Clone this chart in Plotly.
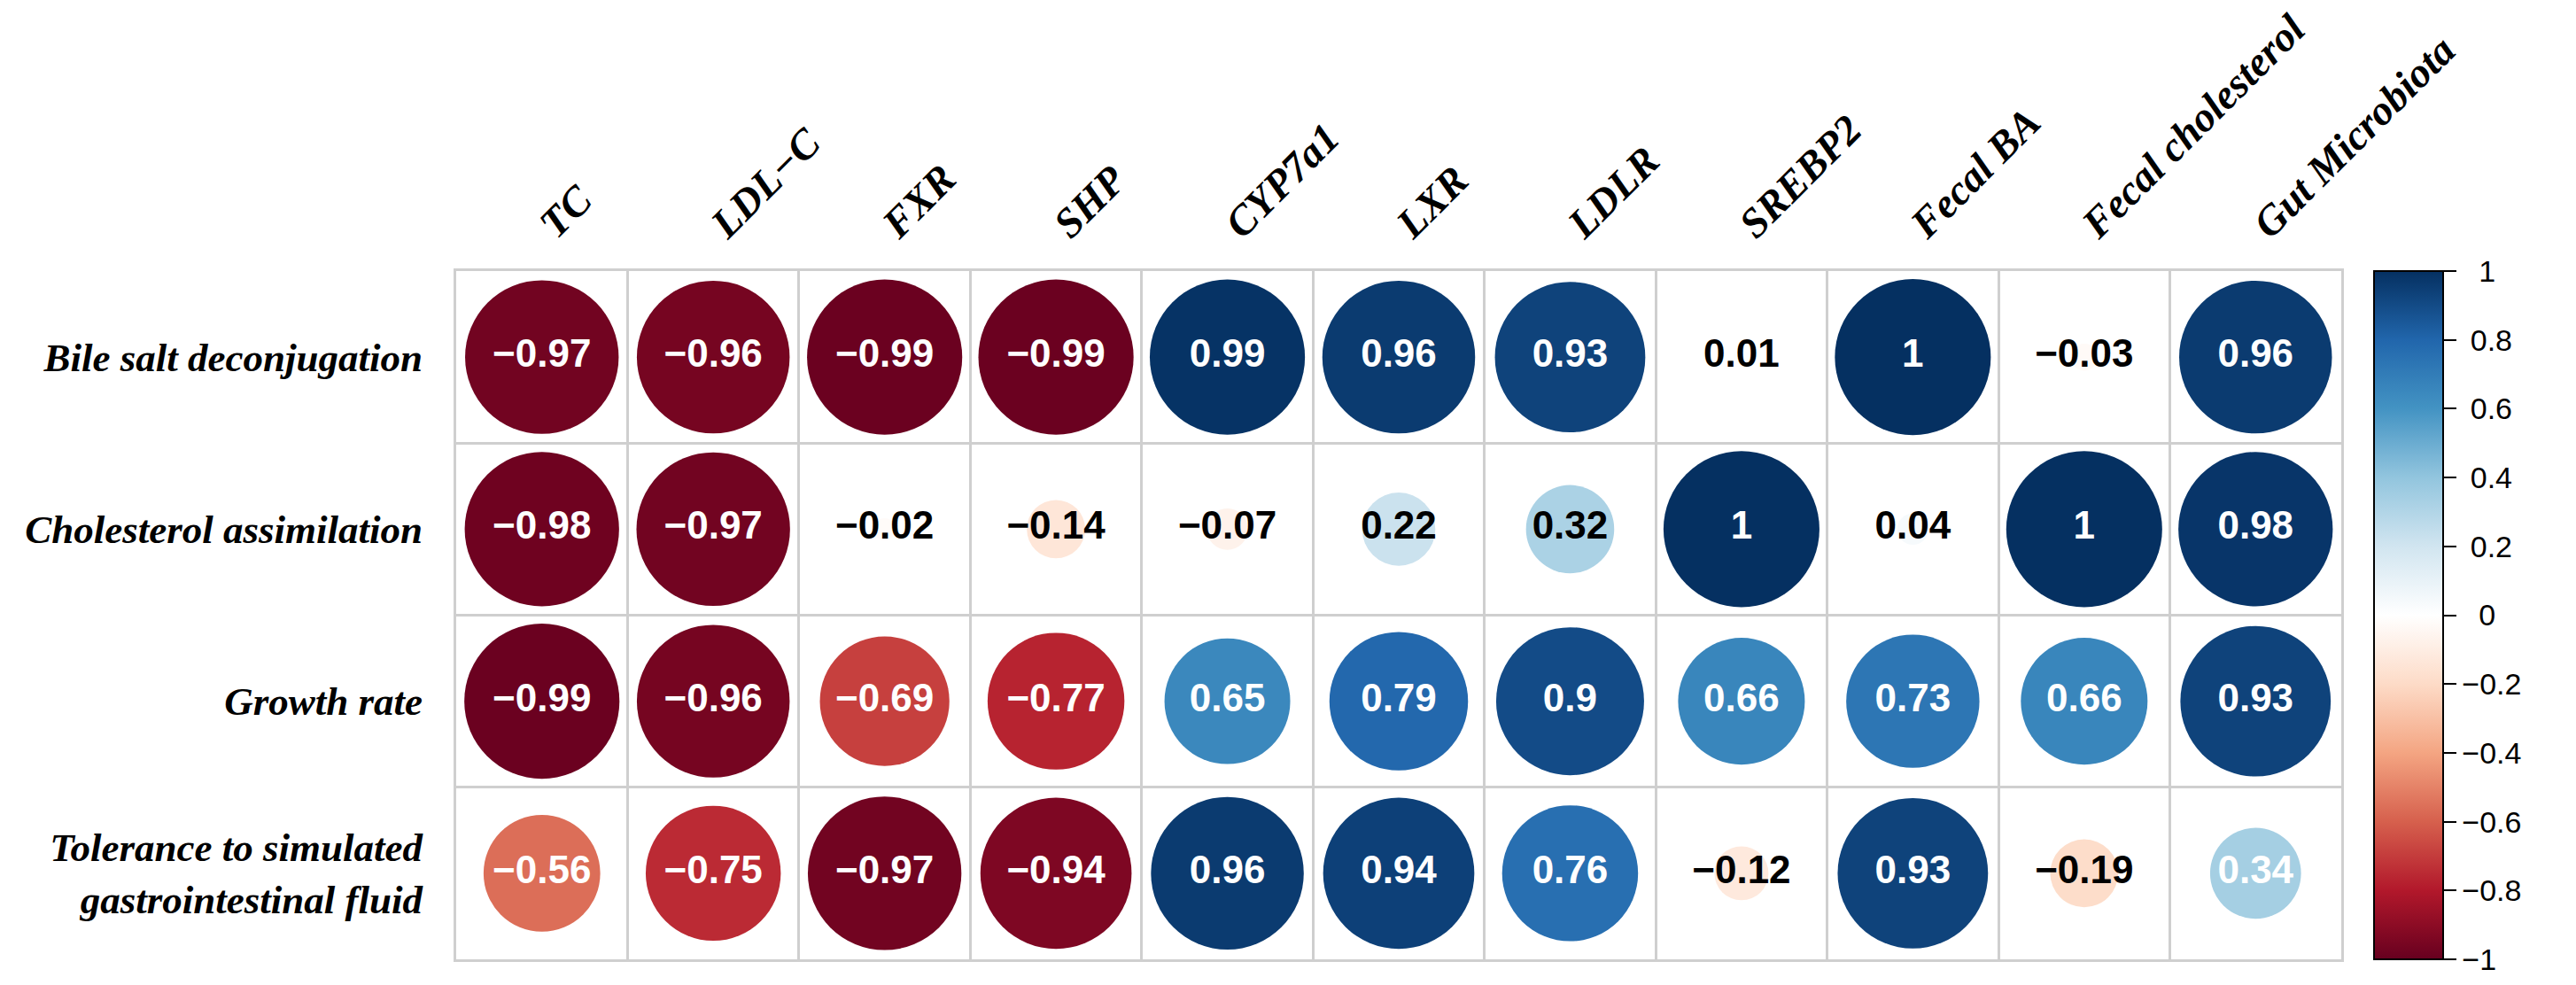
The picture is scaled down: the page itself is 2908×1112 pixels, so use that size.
import plotly.graph_objects as go
import numpy as np

columns = ["TC", "LDL\u2212C", "FXR", "SHP", "CYP7a1", "LXR", "LDLR", "SREBP2",
           "Fecal BA", "Fecal cholesterol", "Gut Microbiota"]
rows = ["Bile salt deconjugation", "Cholesterol assimilation", "Growth rate",
        "Tolerance to simulated<br>gastrointestinal fluid"]

bile_salt = [-0.97, -0.96, -0.99, -0.99, 0.99, 0.96, 0.93, 0.01, 1, -0.03, 0.96]
cholesterol_assim = [-0.98, -0.97, -0.02, -0.14, -0.07, 0.22, 0.32, 1, 0.04, 1, 0.98]
growth_rate = [-0.99, -0.96, -0.69, -0.77, 0.65, 0.79, 0.9, 0.66, 0.73, 0.66, 0.93]
tolerance = [-0.56, -0.75, -0.97, -0.94, 0.96, 0.94, 0.76, -0.12, 0.93, -0.19, 0.34]

cbar_ticks = [-1, -0.8, -0.6, -0.4, -0.2, 0, 0.2, 0.4, 0.6, 0.8, 1]

series = [bile_salt, cholesterol_assim, growth_rate, tolerance]

rdbu = ["#67001F", "#B2182B", "#D6604D", "#F4A582", "#FDDBC7", "#FFFFFF",
        "#D1E5F0", "#92C5DE", "#4393C3", "#2166AC", "#053061"]
colorscale = [[i / (len(rdbu) - 1), c] for i, c in enumerate(rdbu)]

W, H = 2908, 1112
ML, MR, MT, MB = 507, 273, 298, 37
cell = (W - ML - MR) / len(columns)

xs, ys, vals = [], [], []
for ri, s in enumerate(series):
    for ci, v in enumerate(s):
        xs.append(ci + 1)
        ys.append(ri + 1)
        vals.append(v)
vals = np.array(vals)
sizes = 0.91 * cell * np.sqrt(np.abs(vals))


def fmt(v):
    return f"{v:g}".replace("-", "\u2212")


texts = [fmt(v) for v in vals]
text_colors = ["white" if abs(v) >= 0.33 else "black" for v in vals]


def cbar_label(v):
    t = fmt(v)
    if v > 0 and len(t) > 1:
        return "\u2008" + t
    if v >= 0:
        return "\u2007" + t
    return t


fig = go.Figure()
fig.add_trace(go.Scatter(
    x=xs, y=ys, mode="markers+text",
    marker=dict(size=sizes, color=vals, colorscale=colorscale, cmin=-1, cmax=1,
                opacity=1, line=dict(width=0),
                colorbar=dict(
                    x=(2672 - ML) / (W - ML - MR), xanchor="left", xpad=0,
                    y=0.5, yanchor="middle", ypad=0, len=1, lenmode="fraction",
                    thickness=78, outlinewidth=2, outlinecolor="black",
                    tickvals=cbar_ticks, ticktext=[cbar_label(v) for v in cbar_ticks],
                    ticks="outside", ticklen=14, tickwidth=2, tickcolor="black",
                    tickfont=dict(family="Liberation Sans, Arial", size=34, color="black"),
                )),
    text=texts, textposition="middle center",
    textfont=dict(family="Liberation Sans, Arial", size=44, color=text_colors, weight="bold"),
    hoverinfo="skip", cliponaxis=False,
))

row_font = dict(family="Liberation Serif, Times New Roman", size=45, color="black",
                style="italic", weight="bold")
col_font = dict(family="Liberation Serif, Times New Roman", size=47, color="black",
                style="italic", weight="bold")
grid_col = "#CFCFCF"

fig.update_layout(
    width=W, height=H,
    margin=dict(l=ML, r=MR, t=MT, b=MB, pad=0, autoexpand=False),
    paper_bgcolor="white", plot_bgcolor="white", showlegend=False,
    xaxis=dict(
        range=[0.5, len(columns) + 0.5], side="top", automargin=False,
        tickvals=list(range(1, len(columns) + 1)), ticktext=columns,
        tickangle=-45, tickfont=col_font, ticks="", ticklabelstandoff=6,
        showgrid=False, zeroline=False,
        showline=True, mirror=True, linecolor=grid_col, linewidth=3,
        minor=dict(tickvals=[i + 0.5 for i in range(1, len(columns))],
                   showgrid=True, gridcolor=grid_col, gridwidth=3, ticks=""),
    ),
    yaxis=dict(
        range=[len(rows) + 0.5, 0.5], automargin=False,
        tickvals=list(range(1, len(rows) + 1)), ticktext=rows,
        tickfont=row_font, ticks="", ticklabelstandoff=26,
        showgrid=False, zeroline=False,
        showline=True, mirror=True, linecolor=grid_col, linewidth=3,
        minor=dict(tickvals=[i + 0.5 for i in range(1, len(rows))],
                   showgrid=True, gridcolor=grid_col, gridwidth=3, ticks=""),
    ),
)

fig.write_html("out.html")
